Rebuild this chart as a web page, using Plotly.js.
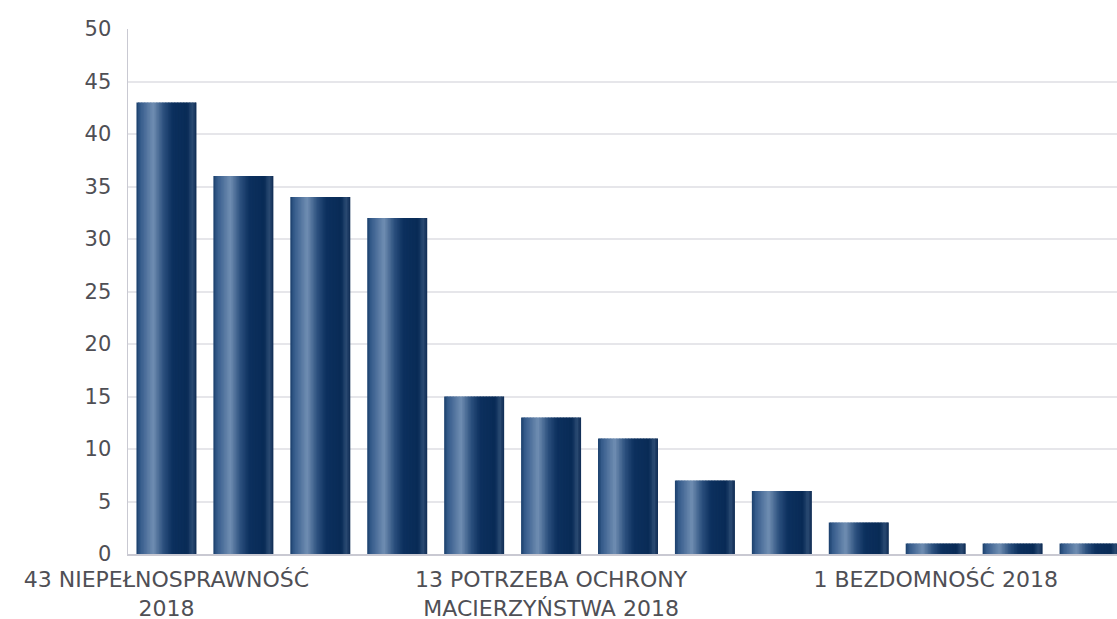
<!DOCTYPE html>
<html>
<head>
<meta charset="utf-8">
<script src="https://cdn.plot.ly/plotly-3.0.1.min.js"></script>
<style>
html,body{margin:0;padding:0;overflow:hidden;background:#fff;}
#chart{width:1128px;height:619px;}
</style>
</head>
<body>
<div id="chart"></div>
<script>
// ---- data ----
const categories = [
  "43 NIEPEŁNOSPRAWNOŚĆ 2018",
  "36 DŁUGOTRWAŁA LUB CIĘŻKA CHOROBA 2018",
  "34 UBÓSTWO 2018",
  "32 BEZROBOCIE 2018",
  "15 ALKOHOLIZM 2018",
  "13 POTRZEBA OCHRONY MACIERZYŃSTWA 2018",
  "11 BEZRADNOŚĆ W SPRAWACH OPIEKUŃCZO-WYCHOWAWCZYCH 2018",
  "7 PRZEMOC W RODZINIE 2018",
  "6 SYTUACJA KRYZYSOWA 2018",
  "3 ZDARZENIE LOSOWE 2018",
  "1 BEZDOMNOŚĆ 2018",
  "1 NARKOMANIA 2018",
  "1 SIEROCTWO 2018"
];
const values = [43, 36, 34, 32, 15, 13, 11, 7, 6, 3, 1, 1, 1];
const tickCategories = [categories[0], categories[5], categories[10]];
const tickLabels = [
  "43 NIEPEŁNOSPRAWNOŚĆ<br>2018",
  "13 POTRZEBA OCHRONY<br>MACIERZYŃSTWA 2018",
  "1 BEZDOMNOŚĆ 2018"
];

// ---- style: cylindrical gradient across each bar ----
const gradStops = [
  [0.00, [26, 62, 106]],
  [0.06, [52, 90, 138]],
  [0.28, [112, 142, 178]],
  [0.45, [44, 80, 126]],
  [0.60, [12, 48, 94]],
  [0.85, [9, 43, 86]],
  [0.93, [44, 76, 116]],
  [1.00, [14, 42, 82]]
];
function colorAt(t){
  for(let i=0;i<gradStops.length-1;i++){
    const [a,ca]=gradStops[i],[b,cb]=gradStops[i+1];
    if(t>=a && t<=b){
      const f=(t-a)/(b-a);
      const c=ca.map((v,k)=>Math.round(v+(cb[k]-v)*f));
      return `rgb(${c[0]},${c[1]},${c[2]})`;
    }
  }
  const c=gradStops[gradStops.length-1][1];
  return `rgb(${c[0]},${c[1]},${c[2]})`;
}
const barW = 0.78, N = 40, strip = barW/N;
const traces = [];
for(let i=0;i<N;i++){
  const t=(i+0.5)/N;
  traces.push({
    type:'bar',
    x: categories,
    y: values,
    offset: -barW/2 + i*strip,
    width: i<N-1 ? strip*1.6 : strip,
    marker:{color:colorAt(t), line:{width:0}},
    hoverinfo: i===Math.floor(N/2) ? 'y' : 'skip',
    showlegend:false
  });
}

const layout = {
  width:1128, height:619,
  margin:{l:128, r:0, t:29, b:65},
  paper_bgcolor:'#ffffff', plot_bgcolor:'#ffffff',
  barmode:'overlay',
  font:{family:'"DejaVu Sans", sans-serif', size:22, color:'#4f4f55'},
  xaxis:{
    type:'category',
    categoryorder:'array', categoryarray:categories,
    tickmode:'array', tickvals:tickCategories, ticktext:tickLabels,
    tickangle:0,
    showgrid:false, zeroline:false,
    showline:true, linecolor:'#c9c9d2', linewidth:1.5,
    ticks:'', ticklabelstandoff:5,
    tickfont:{size:22, color:'#4f4f55'}
  },
  yaxis:{
    range:[0,50], dtick:5, tick0:0,
    showgrid:true, gridcolor:'#e6e6ea', gridwidth:2,
    zeroline:false,
    showline:true, linecolor:'#c9c9d2', linewidth:1.5,
    ticks:'', ticklabelstandoff:11,
    tickfont:{size:21, color:'#4f4f55'}
  }
};

Plotly.newPlot('chart', traces, layout, {displayModeBar:false, staticPlot:true});
</script>
</body>
</html>
